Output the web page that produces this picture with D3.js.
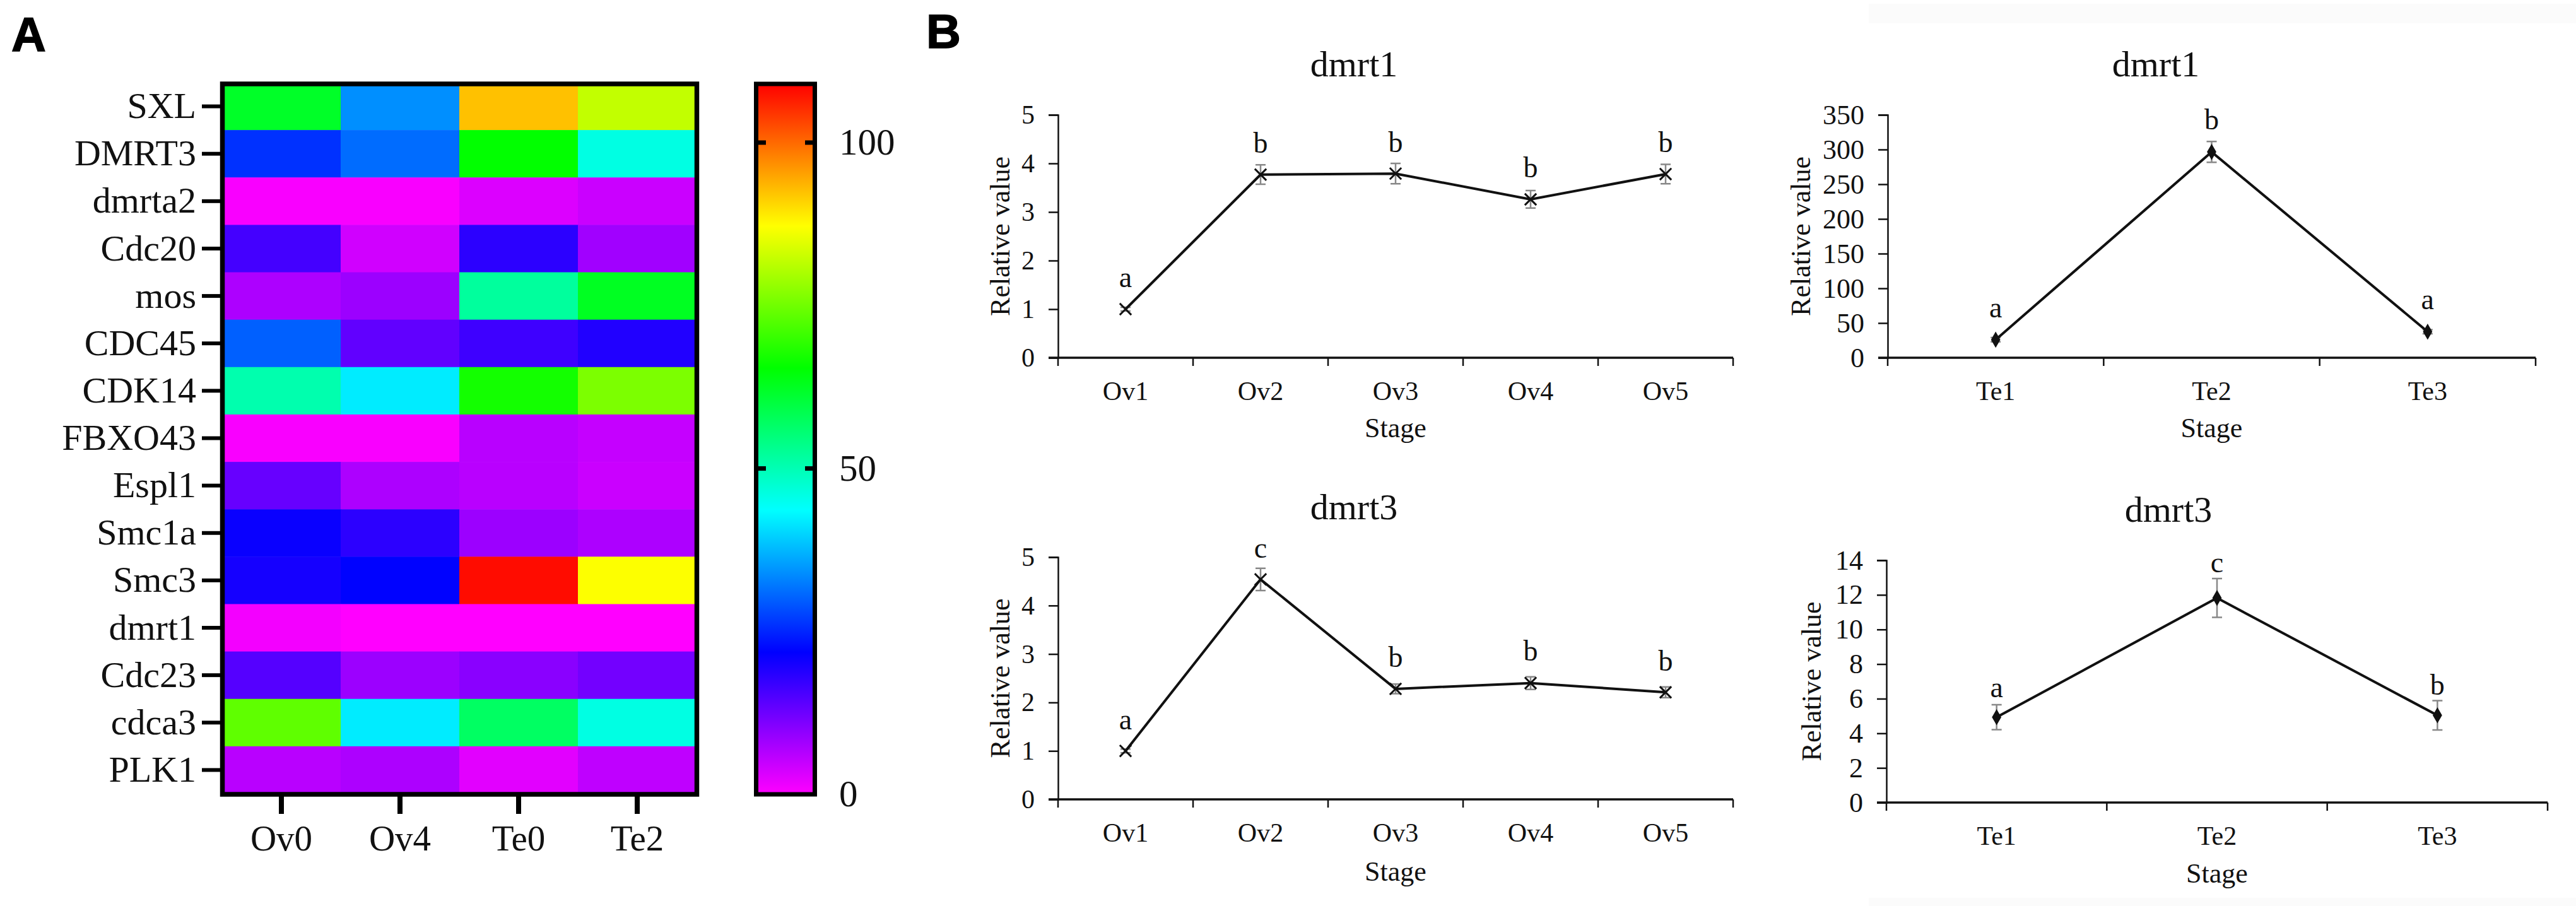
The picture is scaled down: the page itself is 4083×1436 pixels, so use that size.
<!DOCTYPE html>
<html>
<head>
<meta charset="utf-8">
<script src="https://cdn.jsdelivr.net/npm/d3@7"></script>
<style>
  body { margin: 0; background: #fff; }
  text { font-family: "Liberation Serif", serif; fill: #111; }
  .letter { font-family: "Liberation Sans", sans-serif; font-weight: bold; fill: #000; stroke: #000; stroke-width: 1.5px; }
</style>
</head>
<body>
<div id="chart"></div>
<script>
// heatmap data, rows top to bottom, columns Ov0 Ov4 Te0 Te2
var genes = ['SXL', 'DMRT3', 'dmrta2', 'Cdc20', 'mos', 'CDC45', 'CDK14', 'FBXO43', 'Espl1', 'Smc1a', 'Smc3', 'dmrt1', 'Cdc23', 'cdca3', 'PLK1'];
var stages = ['Ov0', 'Ov4', 'Te0', 'Te2'];
var expression = [
  [62, 34, 92.5, 82],
  [26, 31, 65.5, 46],
  [0.5, 0.5, 3, 4.5],
  [16, 4, 18, 8],
  [7, 8.5, 52, 62.5],
  [30, 13.5, 16.5, 19],
  [50.5, 42, 67, 76],
  [0.5, 0.5, 6, 5],
  [13, 7, 6, 4.5],
  [21, 18, 8.5, 7],
  [20, 22, 108, 87],
  [1, 0, 0, 0],
  [14.5, 8.5, 10, 12],
  [73.5, 42, 57, 46],
  [6, 7, 2.5, 5.5]
];
var colorTicks = [0, 50, 100];
var colorStops = [0, 21.8, 43.6, 65.4, 87.2, 109];
var colorValues = ['#ff00ff', '#0000ff', '#00ffff', '#00ff00', '#ffff00', '#ff0000'];

// line charts
var ovStages = ['Ov1', 'Ov2', 'Ov3', 'Ov4', 'Ov5'];
var teStages = ['Te1', 'Te2', 'Te3'];

var dmrt1Ov = [1, 3.77, 3.79, 3.26, 3.78];
var dmrt1OvErr = [0.04, 0.2, 0.21, 0.18, 0.2];
var dmrt1OvLetters = ['a', 'b', 'b', 'b', 'b'];
var dmrt1OvLetterAt = [1.46, 4.22, 4.24, 3.72, 4.24];
var dmrt1OvTicks = [0, 1, 2, 3, 4, 5];

var dmrt1Te = [26, 296.5, 37.5];
var dmrt1TeErr = [3, 15, 3];
var dmrt1TeLetters = ['a', 'b', 'a'];
var dmrt1TeLetterAt = [58, 329, 70];
var dmrt1TeTicks = [0, 50, 100, 150, 200, 250, 300, 350];

var dmrt3Ov = [1, 4.54, 2.28, 2.4, 2.21];
var dmrt3OvErr = [0.04, 0.23, 0.1, 0.13, 0.11];
var dmrt3OvLetters = ['a', 'c', 'b', 'b', 'b'];
var dmrt3OvLetterAt = [1.44, 4.99, 2.74, 2.86, 2.66];
var dmrt3OvTicks = [0, 1, 2, 3, 4, 5];

var dmrt3Te = [4.93, 11.82, 5.04];
var dmrt3TeErr = [0.72, 1.12, 0.85];
var dmrt3TeLetters = ['a', 'c', 'b'];
var dmrt3TeLetterAt = [6.09, 13.3, 6.24];
var dmrt3TeTicks = [0, 2, 4, 6, 8, 10, 12, 14];

var svg = d3.select('#chart').append('svg')
  .attr('width', 4083).attr('height', 1436)
  .style('display', 'block');

// faint scan boxes in the top right and bottom right corners
svg.append('rect').attr('x', 2962).attr('y', 6).attr('width', 1121).attr('height', 31).attr('fill', '#fbfbfb');
svg.append('rect').attr('x', 2962).attr('y', 1423).attr('width', 1121).attr('height', 13).attr('fill', '#fbfbfb');

svg.append('text').attr('class', 'letter').attr('x', 18).attr('y', 81).style('font-size', '76px').text('A');
svg.append('text').attr('class', 'letter').attr('x', 1468).attr('y', 76).style('font-size', '76px').text('B');

/* Heatmap */
var color = d3.scaleLinear().domain(colorStops).range(colorValues);
var hx = d3.scaleBand().domain(stages).range([352, 1104]);
var hy = d3.scaleBand().domain(genes).range([131, 1258]);
var heat = svg.append('g');

expression.forEach(function(row, r) {
  heat.selectAll('.cell' + r).data(row).enter().append('rect')
    .attr('class', 'cell' + r)
    .attr('x', function(d, i) { return hx(stages[i]); })
    .attr('y', hy(genes[r]))
    .attr('width', hx.bandwidth() + 0.5)
    .attr('height', hy.bandwidth() + 0.5)
    .attr('fill', function(d) { return color(d); });
});

heat.append('rect').attr('x', 352.5).attr('y', 133).attr('width', 752).attr('height', 1126)
  .attr('fill', 'none').attr('stroke', '#000').attr('stroke-width', 7.5);

var hAxisY = heat.append('g').attr('transform', 'translate(349,0)')
  .call(d3.axisLeft(hy).tickSize(29).tickPadding(9));
hAxisY.select('.domain').remove();
hAxisY.selectAll('line').attr('stroke', '#000').attr('stroke-width', 6);
hAxisY.selectAll('text').style('font-size', '58px').attr('font-family', null);

var hAxisX = heat.append('g').attr('transform', 'translate(0,1262)')
  .call(d3.axisBottom(hx).tickSize(28).tickPadding(18));
hAxisX.select('.domain').remove();
hAxisX.selectAll('line').attr('stroke', '#000').attr('stroke-width', 8);
hAxisX.selectAll('text').style('font-size', '57px').attr('font-family', null);

/* Colour bar */
var barY = d3.scaleLinear().domain([0, 109]).range([1259, 133]);
var defs = svg.append('defs');
var grad = defs.append('linearGradient').attr('id', 'rainbow')
  .attr('x1', 0).attr('x2', 0).attr('y1', 1).attr('y2', 0);
grad.selectAll('stop').data(colorStops).enter().append('stop')
  .attr('offset', function(d) { return d / 109; })
  .attr('stop-color', function(d) { return color(d); });

svg.append('rect').attr('x', 1198.5).attr('y', 133).attr('width', 93).attr('height', 1126)
  .attr('fill', 'url(#rainbow)').attr('stroke', '#000').attr('stroke-width', 7);

var barAxis = svg.append('g').attr('transform', 'translate(1295,0)')
  .call(d3.axisRight(barY).tickValues(colorTicks).tickSize(0).tickPadding(35));
barAxis.select('.domain').remove();
barAxis.selectAll('text').style('font-size', '59px').attr('font-family', null);

// the colour bar ticks sit inside the frame, on both sides
svg.selectAll('.barTick').data(colorTicks.filter(function(d) { return d > 0; })).enter()
  .append('path').attr('class', 'barTick')
  .attr('d', function(d) {
    var y = barY(d);
    return 'M1198,' + y + 'H1214M1276,' + y + 'H1292';
  })
  .attr('stroke', '#000').attr('stroke-width', 7);

/* Line charts */
function linePanel(cfg) {
  var g = svg.append('g');
  var x = d3.scaleBand().domain(cfg.stages).range([cfg.left, cfg.right]);
  var y = d3.scaleLinear().domain([0, d3.max(cfg.ticks)]).range([cfg.bottom, cfg.top]);
  var cx = function(i) { return x(cfg.stages[i]) + x.bandwidth() / 2; };
  var pts = cfg.values.map(function(v, i) { return [cx(i), y(v)]; });

  var yAxis = g.append('g').attr('transform', 'translate(' + cfg.left + ',0)')
    .call(d3.axisLeft(y).tickValues(cfg.ticks).tickFormat(d3.format('d')).tickSize(15).tickPadding(cfg.labelGap));
  yAxis.select('.domain').attr('stroke', '#111').attr('stroke-width', 2.5);
  yAxis.selectAll('line').attr('stroke', '#111').attr('stroke-width', 2.5);
  yAxis.selectAll('text').style('font-size', cfg.tickFont + 'px').attr('font-family', null);

  var xAxis = g.append('g').attr('transform', 'translate(0,' + cfg.bottom + ')')
    .call(d3.axisBottom(x).tickSize(0).tickPadding(37));
  xAxis.select('.domain').attr('d', 'M' + (cfg.left - 15) + ',0H' + cfg.right).attr('stroke', '#111').attr('stroke-width', 3.5);
  xAxis.selectAll('text').style('font-size', '42px').attr('font-family', null);

  // ticks fall between the categories
  g.selectAll('.edge').data(d3.range(cfg.stages.length + 1)).enter().append('line')
    .attr('class', 'edge')
    .attr('x1', function(d) { return cfg.left + d * x.step(); })
    .attr('x2', function(d) { return cfg.left + d * x.step(); })
    .attr('y1', cfg.bottom).attr('y2', cfg.bottom + 13)
    .attr('stroke', '#111').attr('stroke-width', 2.5);

  // error bars
  var bars = g.selectAll('.err').data(cfg.errors).enter().append('g').attr('class', 'err')
    .attr('stroke', '#888').attr('stroke-width', 2.5).attr('fill', 'none');
  bars.append('path').attr('d', function(d, i) {
    var hi = y(cfg.values[i] + d), lo = y(cfg.values[i] - d);
    return 'M' + (cx(i) - 8) + ',' + hi + 'H' + (cx(i) + 8) +
      'M' + cx(i) + ',' + hi + 'V' + lo +
      'M' + (cx(i) - 8) + ',' + lo + 'H' + (cx(i) + 8);
  });

  g.append('path').attr('d', d3.line()(pts))
    .attr('fill', 'none').attr('stroke', '#111').attr('stroke-width', 4);

  var isCross = cfg.marker === d3.symbolTimes;
  var sym = d3.symbol().type(cfg.marker).size(isCross ? 220 : 190);
  g.selectAll('.mark').data(pts).enter().append('path')
    .attr('class', 'mark')
    .attr('transform', function(d) { return 'translate(' + d[0] + ',' + d[1] + ')'; })
    .attr('d', sym)
    .attr('fill', isCross ? 'none' : '#111')
    .attr('stroke', isCross ? '#111' : 'none')
    .attr('stroke-width', 3);

  g.selectAll('.sig').data(cfg.letters).enter().append('text')
    .attr('class', 'sig')
    .attr('x', function(d, i) { return cx(i); })
    .attr('y', function(d, i) { return y(cfg.letterAt[i]); })
    .attr('text-anchor', 'middle')
    .style('font-size', '46px')
    .text(function(d) { return d; });

  g.append('text').attr('x', cfg.titleX).attr('y', cfg.titleY)
    .attr('text-anchor', 'middle').style('font-size', '58px').text(cfg.title);
  g.append('text').attr('x', (cfg.left + cfg.right) / 2).attr('y', cfg.stageY)
    .attr('text-anchor', 'middle').style('font-size', '44px').text('Stage');
  g.append('text')
    .attr('transform', 'translate(' + cfg.labelX + ',' + ((cfg.top + cfg.bottom) / 2) + ') rotate(-90)')
    .attr('text-anchor', 'middle').style('font-size', '44px').text('Relative value');
}

linePanel({
  title: 'dmrt1', stages: ovStages, values: dmrt1Ov, errors: dmrt1OvErr, letters: dmrt1OvLetters,
  letterAt: dmrt1OvLetterAt, ticks: dmrt1OvTicks, marker: d3.symbolTimes, tickFont: 42,
  left: 1677, right: 2747, top: 182, bottom: 567, labelGap: 22,
  titleX: 2146, titleY: 121, stageY: 693, labelX: 1600
});
linePanel({
  title: 'dmrt1', stages: teStages, values: dmrt1Te, errors: dmrt1TeErr, letters: dmrt1TeLetters,
  letterAt: dmrt1TeLetterAt, ticks: dmrt1TeTicks, marker: d3.symbolDiamond, tickFont: 44,
  left: 2992, right: 4019, top: 182, bottom: 567, labelGap: 22,
  titleX: 3417, titleY: 121, stageY: 693, labelX: 2869
});
linePanel({
  title: 'dmrt3', stages: ovStages, values: dmrt3Ov, errors: dmrt3OvErr, letters: dmrt3OvLetters,
  letterAt: dmrt3OvLetterAt, ticks: dmrt3OvTicks, marker: d3.symbolTimes, tickFont: 42,
  left: 1677, right: 2747, top: 883, bottom: 1267, labelGap: 22,
  titleX: 2146, titleY: 823, stageY: 1396, labelX: 1600
});
linePanel({
  title: 'dmrt3', stages: teStages, values: dmrt3Te, errors: dmrt3TeErr, letters: dmrt3TeLetters,
  letterAt: dmrt3TeLetterAt, ticks: dmrt3TeTicks, marker: d3.symbolDiamond, tickFont: 44,
  left: 2990, right: 4038, top: 888, bottom: 1272, labelGap: 22,
  titleX: 3437, titleY: 827, stageY: 1399, labelX: 2886
});
</script>
</body>
</html>
